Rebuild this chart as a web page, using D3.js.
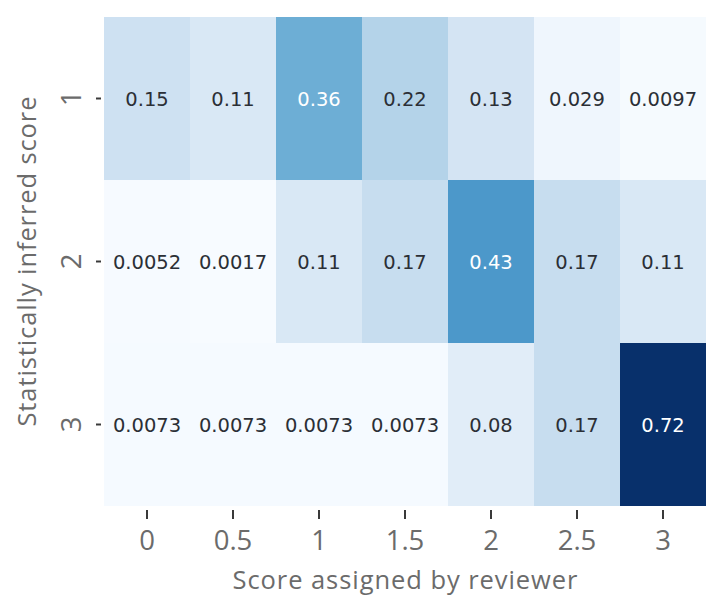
<!DOCTYPE html>
<html>
<head>
<meta charset="utf-8">
<script src="https://cdn.jsdelivr.net/npm/d3@7/dist/d3.min.js"></script>
<style>
  html, body { margin: 0; padding: 0; background: #ffffff; }
  svg { display: block; }
</style>
</head>
<body>
<svg id="chart" width="707" height="595"></svg>
<script>
// Reviewer scores (columns) and inferred scores (rows)
const reviewerScores = ["0", "0.5", "1", "1.5", "2", "2.5", "3"];
const inferredScores = ["1", "2", "3"];

// Normalised frequency for each inferred score row
const row1 = [0.15, 0.11, 0.36, 0.22, 0.13, 0.029, 0.0097];
const row2 = [0.0052, 0.0017, 0.11, 0.17, 0.43, 0.17, 0.11];
const row3 = [0.0073, 0.0073, 0.0073, 0.0073, 0.08, 0.17, 0.72];

const xTitle = "Score assigned by reviewer";
const yTitle = "Statistically inferred score";

const matrix = [row1, row2, row3];
const cells = [];
matrix.forEach((row, r) => row.forEach((v, c) => cells.push({
  row: inferredScores[r], col: reviewerScores[c], value: v
})));

const margin = { left: 104, top: 17, right: 1, bottom: 89 };
const W = 707, H = 595;
const svg = d3.select("#chart");

const x = d3.scaleBand().domain(reviewerScores)
  .range([margin.left, W - margin.right]).padding(0);
const y = d3.scaleBand().domain(inferredScores)
  .range([margin.top, H - margin.bottom]).padding(0);

const vmin = d3.min(cells, d => d.value), vmax = d3.max(cells, d => d.value);
const color = d3.scaleSequential(d3.interpolateBlues).domain([vmin, vmax]);

function textColor(v) {
  const c = d3.rgb(color(v));
  const lin = ch => { ch /= 255; return ch <= 0.03928 ? ch / 12.92 : Math.pow((ch + 0.055) / 1.055, 2.4); };
  const lum = 0.2126 * lin(c.r) + 0.7152 * lin(c.g) + 0.0722 * lin(c.b);
  return lum > 0.408 ? "#2b2f36" : "#ffffff";
}

// Heatmap cells
svg.append("g").selectAll("rect").data(cells).join("rect")
  .attr("x", d => x(d.col))
  .attr("y", d => y(d.row))
  .attr("width", x.bandwidth())
  .attr("height", y.bandwidth())
  .attr("fill", d => color(d.value));

// Cell annotations (value printed with up to two significant digits)
svg.append("g").selectAll("text").data(cells).join("text")
  .attr("x", d => x(d.col) + x.bandwidth() / 2)
  .attr("y", d => y(d.row) + y.bandwidth() / 2 + 7)
  .attr("text-anchor", "middle")
  .attr("font-family", "DejaVu Sans, sans-serif")
  .attr("font-size", 19.5)
  .attr("fill", d => textColor(d.value))
  .text(d => String(+d.value.toPrecision(2)));

const tickColor = "#6b6b6b";
const labelFont = "'Open Sans', 'Noto Sans', sans-serif";

// X axis
const xAxis = svg.append("g")
  .attr("transform", `translate(0,${H - margin.bottom})`)
  .call(d3.axisBottom(x));
xAxis.select(".domain").remove();
xAxis.selectAll(".tick line").attr("stroke", "#3a3a3a").attr("stroke-width", 2)
  .attr("y1", 4).attr("y2", 13);
xAxis.selectAll(".tick text")
  .attr("font-family", labelFont).attr("font-size", 27.5).attr("fill", tickColor)
  .attr("y", 44).attr("dy", null);

// Y axis
const yAxis = svg.append("g")
  .attr("transform", `translate(${margin.left},0)`)
  .call(d3.axisLeft(y));
yAxis.select(".domain").remove();
yAxis.selectAll(".tick line").attr("stroke", "#3a3a3a").attr("stroke-width", 2)
  .attr("x1", -3).attr("x2", -8);
yAxis.selectAll(".tick text")
  .attr("font-family", labelFont).attr("font-size", 27.5).attr("fill", tickColor)
  .attr("x", 0).attr("dy", null)
  .attr("text-anchor", "middle")
  .attr("transform", "translate(-23,0) rotate(-90)");

// Axis titles
svg.append("text")
  .attr("x", (margin.left + W - margin.right) / 2)
  .attr("y", 589)
  .attr("text-anchor", "middle")
  .attr("font-family", labelFont).attr("font-size", 25.5).attr("fill", tickColor)
  .attr("textLength", 345).attr("lengthAdjust", "spacing")
  .text(xTitle);

svg.append("text")
  .attr("transform", `translate(36,${(margin.top + H - margin.bottom) / 2}) rotate(-90)`)
  .attr("text-anchor", "middle")
  .attr("font-family", labelFont).attr("font-size", 25.5).attr("fill", tickColor)
  .attr("textLength", 330).attr("lengthAdjust", "spacing")
  .text(yTitle);
</script>
</body>
</html>
